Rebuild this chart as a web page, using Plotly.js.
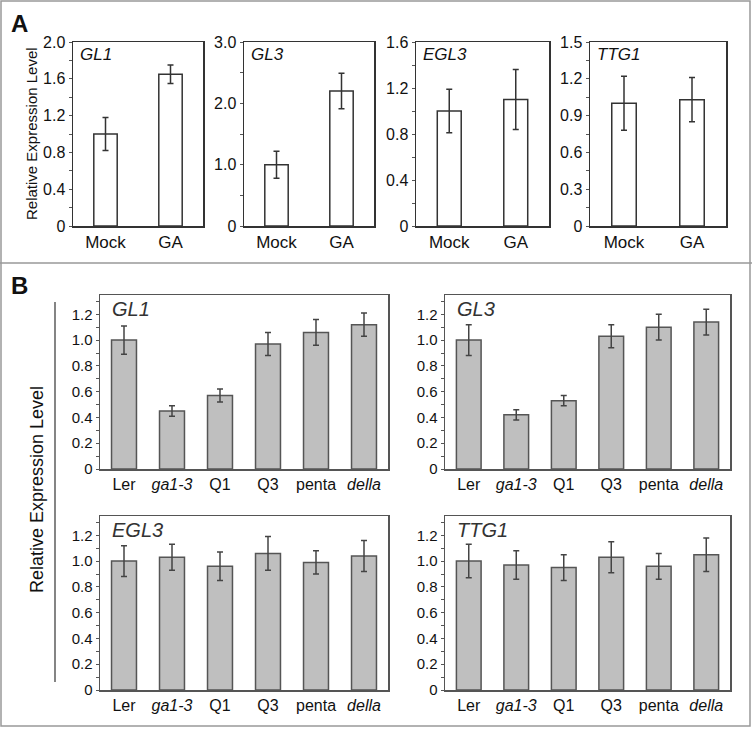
<!DOCTYPE html>
<html>
<head>
<meta charset="utf-8">
<script src="https://cdn.plot.ly/plotly-3.0.1.min.js"></script>
<style>
  body { margin: 0; background: #fff; }
  #chart { width: 752px; height: 729px; }
</style>
</head>
<body>
<div id="chart"></div>
<script>
'use strict'
// panel A: Mock vs GA
let aCats = ['Mock', 'GA'];
let aGL1 = [1.0, 1.65];
let aGL1Err = [0.18, 0.10];
let aGL3 = [1.0, 2.2];
let aGL3Err = [0.22, 0.29];
let aEGL3 = [1.0, 1.1];
let aEGL3Err = [0.19, 0.26];
let aTTG1 = [1.0, 1.03];
let aTTG1Err = [0.22, 0.18];

// panel B: mutant lines
let bCats = ['Ler', '<i>ga1-3</i>', 'Q1', 'Q3', 'penta', '<i>della</i>'];
let bGL1 = [1.0, 0.45, 0.57, 0.97, 1.06, 1.12];
let bGL1Err = [0.11, 0.04, 0.05, 0.09, 0.10, 0.09];
let bGL3 = [1.0, 0.42, 0.53, 1.03, 1.10, 1.14];
let bGL3Err = [0.12, 0.04, 0.04, 0.09, 0.10, 0.10];
let bEGL3 = [1.0, 1.03, 0.96, 1.06, 0.99, 1.04];
let bEGL3Err = [0.12, 0.10, 0.11, 0.13, 0.09, 0.12];
let bTTG1 = [1.0, 0.97, 0.95, 1.03, 0.96, 1.05];
let bTTG1Err = [0.13, 0.11, 0.10, 0.12, 0.10, 0.13];

let aTicks = {
  GL1: [0, 0.4, 0.8, 1.2, 1.6, 2.0],
  GL3: [0, 1.0, 2.0, 3.0],
  EGL3: [0, 0.4, 0.8, 1.2, 1.6],
  TTG1: [0, 0.3, 0.6, 0.9, 1.2, 1.5]
};
let bTicks = [0, 0.2, 0.4, 0.6, 0.8, 1.0, 1.2];

let W = 752, H = 729;
function dx(a, b) { return [a / W, b / W]; }
function dy(top, bottom) { return [1 - bottom / H, 1 - top / H]; }

let font = 'Arial, "Liberation Sans", sans-serif';

function barA(n, cats, vals, errs) {
  return {
    type: 'bar', x: cats, y: vals, xaxis: 'x' + n, yaxis: 'y' + n, width: 0.36,
    marker: {color: '#ffffff', line: {color: '#333', width: 1.5}},
    error_y: {type: 'data', array: errs, color: '#333', thickness: 1.5, width: 3},
    showlegend: false
  };
}
function barB(n, cats, vals, errs) {
  return {
    type: 'bar', x: cats, y: vals, xaxis: 'x' + n, yaxis: 'y' + n, width: 0.52,
    marker: {color: '#bfbfbf', line: {color: '#555', width: 1.5}},
    error_y: {type: 'data', array: errs, color: '#444', thickness: 1.5, width: 3},
    showlegend: false
  };
}

let data = [
  barA('', aCats, aGL1, aGL1Err),
  barA(2, aCats, aGL3, aGL3Err),
  barA(3, aCats, aEGL3, aEGL3Err),
  barA(4, aCats, aTTG1, aTTG1Err),
  barB(5, bCats, bGL1, bGL1Err),
  barB(6, bCats, bGL3, bGL3Err),
  barB(7, bCats, bEGL3, bEGL3Err),
  barB(8, bCats, bTTG1, bTTG1Err)
];

function xAx(domain, anchor, size, lineColor) {
  return {
    domain: domain, anchor: anchor, type: 'category', showline: true, mirror: true,
    linecolor: lineColor, linewidth: 1.5, ticks: '', showgrid: false, fixedrange: true,
    tickfont: {family: font, size: size, color: '#111'}
  };
}
function yAx(domain, anchor, range, vals, minorStep, size, lineColor) {
  return {
    domain: domain, anchor: anchor, range: range, showline: true, mirror: true,
    linecolor: lineColor, linewidth: 1.5, showgrid: false, zeroline: false,
    tickmode: 'array', tickvals: vals, ticktext: vals.map(v => v === 0 ? '0' : v.toFixed(1)),
    ticks: 'outside', ticklen: 3, tickcolor: '#555', tickwidth: 1,
    minor: {dtick: minorStep, ticks: 'outside', ticklen: 3, tickcolor: '#555', showgrid: false},
    tickfont: {family: font, size: size, color: '#111'}
  };
}

let yA = dy(42, 226);
let yB1 = dy(295, 469);
let yB2 = dy(516, 690);
let xBL = dx(100, 388);
let xBR = dx(445, 730);

let layout = {
  width: W, height: H,
  margin: {l: 0, r: 0, t: 0, b: 0},
  paper_bgcolor: '#ffffff', plot_bgcolor: '#ffffff',
  font: {family: font},
  bargap: 0,
  xaxis: xAx(dx(73, 203), 'y', 17, '#333'),
  yaxis: yAx(yA, 'x', [0, 2.0], aTicks.GL1, 0.2, 16, '#333'),
  xaxis2: xAx(dx(244, 374), 'y2', 17, '#333'),
  yaxis2: yAx(yA, 'x2', [0, 3.0], aTicks.GL3, 0.5, 16, '#333'),
  xaxis3: xAx(dx(416, 549), 'y3', 17, '#333'),
  yaxis3: yAx(yA, 'x3', [0, 1.6], aTicks.EGL3, 0.2, 16, '#333'),
  xaxis4: xAx(dx(590, 726), 'y4', 17, '#333'),
  yaxis4: yAx(yA, 'x4', [0, 1.5], aTicks.TTG1, 0.15, 16, '#333'),
  xaxis5: xAx(xBL, 'y5', 16, '#555'),
  yaxis5: yAx(yB1, 'x5', [0, 1.35], bTicks, 0.1, 15, '#555'),
  xaxis6: xAx(xBR, 'y6', 16, '#555'),
  yaxis6: yAx(yB1, 'x6', [0, 1.35], bTicks, 0.1, 15, '#555'),
  xaxis7: xAx(xBL, 'y7', 16, '#555'),
  yaxis7: yAx(yB2, 'x7', [0, 1.35], bTicks, 0.1, 15, '#555'),
  xaxis8: xAx(xBR, 'y8', 16, '#555'),
  yaxis8: yAx(yB2, 'x8', [0, 1.35], bTicks, 0.1, 15, '#555'),
  shapes: [
    {type: 'rect', xref: 'paper', yref: 'paper', x0: 1 / W, x1: 1 - 2 / W, y0: 3 / H, y1: 1 - 1 / H,
     line: {color: '#999', width: 1.5}},
    {type: 'line', xref: 'paper', yref: 'paper', x0: 0, x1: 1, y0: 1 - 263 / H, y1: 1 - 263 / H,
     line: {color: '#999', width: 1.5}},
    {type: 'line', xref: 'paper', yref: 'paper', x0: 55 / W, x1: 55 / W, y0: 1 - 682 / H, y1: 1 - 302 / H,
     line: {color: '#333', width: 1.2}}
  ],
  annotations: []
};

let ann = layout.annotations;
function label(text, x, y, size, opts) {
  ann.push(Object.assign({
    text: text, xref: 'paper', yref: 'paper', x: x / W, y: 1 - y / H,
    xanchor: 'center', yanchor: 'middle',
    showarrow: false, font: {family: font, size: size, color: '#111'}
  }, opts || {}));
}
label('<b>A</b>', 19, 24, 24);
label('<b>B</b>', 19, 285, 24);
label('Relative Expression Level', 32, 134, 15, {textangle: -90});
label('Relative Expression Level', 37, 490, 18, {textangle: -90});

function geneTitle(text, n, size, color) {
  ann.push({
    text: '<i>' + text + '</i>', xref: 'x' + n + ' domain', yref: 'y' + n + ' domain',
    x: 0.035, y: 0.995, xanchor: 'left', yanchor: 'top', showarrow: false,
    font: {family: font, size: size, color: color}
  });
}
geneTitle('GL1', '', 17, '#111');
geneTitle('GL3', 2, 17, '#111');
geneTitle('EGL3', 3, 17, '#111');
geneTitle('TTG1', 4, 17, '#111');
geneTitle('GL1', 5, 20, '#333');
geneTitle('GL3', 6, 20, '#333');
geneTitle('EGL3', 7, 20, '#333');
geneTitle('TTG1', 8, 20, '#333');

Plotly.newPlot('chart', data, layout, {staticPlot: true});
</script>
</body>
</html>
